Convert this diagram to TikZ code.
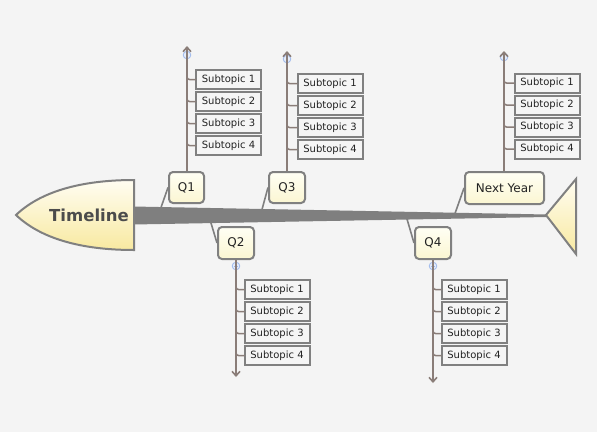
\documentclass[tikz,border=0pt]{standalone}
\usepackage{fontspec}
\setmainfont{DejaVu Sans}
\usetikzlibrary{arrows.meta,shadings}
\definecolor{bg}{HTML}{F4F4F4}
\definecolor{edge}{HTML}{808080}
\definecolor{branch}{HTML}{8A7D78}
\definecolor{ylo}{HTML}{F8E9A0}
\definecolor{yhi}{HTML}{FFFDF2}
\definecolor{qlo}{HTML}{FBF6D2}
\definecolor{qhi}{HTML}{FFFFF4}
\definecolor{spine}{HTML}{7F7F7F}
\definecolor{dot}{HTML}{9DB8EC}
\definecolor{txt}{HTML}{222222}
\begin{document}
\begin{tikzpicture}[x=1pt,y=-1pt,
  qbox/.style={draw=edge,line width=2pt,rounded corners=4pt,top color=qhi,bottom color=qlo,
    minimum height=31pt,inner sep=0pt,font=\fontsize{12}{14}\selectfont,text=txt},
  sbox/.style={draw=edge,line width=2pt,fill=white!96!black,minimum width=65pt,minimum height=19pt,
    inner sep=0pt,outer sep=0pt,font=\fontsize{10}{12}\selectfont,text=txt},
  branchline/.style={draw=branch,line width=2pt},
  upline/.style={branchline,-{Straight Barb[length=4.5pt,width=8pt,line width=1.6pt]}},
  tick/.style={draw=branch,line width=1.5pt,rounded corners=2.5pt},
  link/.style={draw=spine,line width=1.6pt},
  fold/.style={draw=dot,fill=dot!25,line width=0.8pt}]
\useasboundingbox[fill=bg] (0,0) rectangle (597,432);
% spine
\fill[spine] (133,206.5) -- (547,214.5) -- (547,217) -- (133,224.5) -- cycle;
% head
\draw[draw=edge,line width=2pt,top color=yhi,bottom color=ylo]
  (134,180) .. controls (80,180) and (40,192) .. (16,215)
  .. controls (40,238) and (80,250) .. (134,250) -- cycle;
\node[font=\bfseries\fontsize{16.5}{18}\selectfont,text=black!70] (head) at (89,215) {Timeline};
% tail
\draw[draw=edge,line width=2pt,top color=yhi,bottom color=ylo]
  (546,215) -- (576,179) -- (576,254) -- cycle;
% spine attach points
\coordinate (a1) at (161,207.5);
\coordinate (a2) at (211,223);
\coordinate (a3) at (262,209.5);
\coordinate (a4) at (407,219);
\coordinate (a5) at (455,213.5);
% Q boxes
\node[qbox,minimum width=35pt] (q1) at (186.5,187.5) {Q1};
\node[qbox,minimum width=36pt] (q3) at (287,187.5) {Q3};
\node[qbox,minimum width=36pt,minimum height=32pt] (q2) at (236,243) {Q2};
\node[qbox,minimum width=36pt,minimum height=32pt] (q4) at (433,243) {Q4};
\node[qbox,minimum width=79pt,minimum height=32pt] (ny) at (504.5,188) {Next Year};
\draw[link] (a1) -- (q1.west);
\draw[link] (a3) -- (q3.west);
\draw[link] (a2) -- (q2.west);
\draw[link] (a4) -- (q4.west);
\draw[link] (a5) -- (ny.west);
% fold markers
\draw[fold] (187,55) circle (3.8pt);
\draw[fold] (287,59) circle (3.8pt);
\draw[fold] (504,57) circle (3.8pt);
\draw[fold] (236,266) circle (3.8pt);
\draw[fold] (433,266) circle (3.8pt);
\draw[dot,line width=0.7pt] (233.8,266) -- (238.2,266) (430.8,266) -- (435.2,266);
% branch ends
\coordinate (t1) at (187,46);
\coordinate (t3) at (287,51);
\coordinate (t5) at (504,51);
\coordinate (t2) at (236,377);
\coordinate (t4) at (433,383);
\draw[upline] (q1.north-|t1) -- (t1);
\draw[upline] (q3.north) -- (t3);
\draw[upline] (ny.north-|t5) -- (t5);
\draw[upline] (q2.south) -- (t2);
\draw[upline] (q4.south) -- (t4);
% subtopics Q1
\foreach \i/\y in {1/79.5,2/101.5,3/123.5,4/145.5}{
  \node[sbox] (s1\i) at (228.5,\y) {Subtopic \i};
  \draw[tick] (s1\i.west) -| ++(-9,-6);}
% Q3
\foreach \i/\y in {1/83.5,2/105.5,3/127.5,4/149.5}{
  \node[sbox] (s3\i) at (330,\y) {Subtopic \i};
  \draw[tick] (s3\i.west) -| ++(-10.5,-6);}
% Next Year
\foreach \i/\y in {1/83,2/105,3/127,4/149}{
  \node[sbox] (s5\i) at (547,\y) {Subtopic \i};
  \draw[tick] (s5\i.west) -| ++(-10.5,-6);}
% Q2
\foreach \i/\y in {1/289.5,2/311.5,3/333.5,4/355.5}{
  \node[sbox] (s2\i) at (277,\y) {Subtopic \i};
  \draw[tick] (s2\i.west) -| ++(-8.5,-6);}
% Q4
\foreach \i/\y in {1/289.5,2/311.5,3/333.5,4/355.5}{
  \node[sbox] (s4\i) at (474,\y) {Subtopic \i};
  \draw[tick] (s4\i.west) -| ++(-8.5,-6);}
\end{tikzpicture}
\end{document}
